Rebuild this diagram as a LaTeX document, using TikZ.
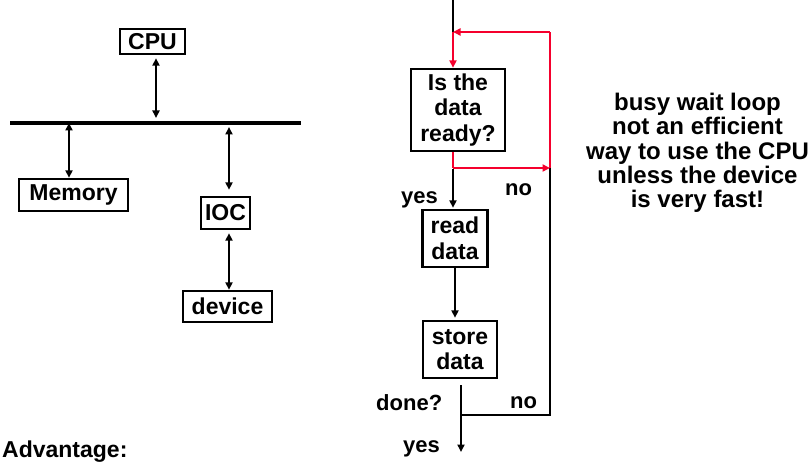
\documentclass[tikz,border=0pt]{standalone}
\usepackage{fontspec}
\setmainfont{Liberation Sans}
\usetikzlibrary{arrows.meta}
\definecolor{loopred}{RGB}{245,0,45}
\begin{document}
\begin{tikzpicture}[x=1pt,y=-1pt,
  box/.style={draw,line width=2.4pt,inner sep=0pt,align=center,font=\fontsize{23}{25.5}\selectfont\bfseries},
  lbl/.style={inner sep=0pt,anchor=base west,font=\fontsize{22}{24}\selectfont\bfseries},
  con/.style={line width=2.2pt,-{Triangle[length=7.5pt,width=7pt]}},
  dcon/.style={line width=2.2pt,{Triangle[length=7.5pt,width=7pt]}-{Triangle[length=7.5pt,width=7pt]}},
  rcon/.style={con,draw=loopred},
  rline/.style={line width=2.2pt,draw=loopred},
  bline/.style={line width=2.2pt},
  ]
\useasboundingbox (0,0) rectangle (809,462);

% left: bus system
\node[box,minimum width=65pt,minimum height=25pt] (cpu) at (152.5,41.5) {CPU};
\node[box,minimum width=109pt,minimum height=32pt] (mem) at (73.5,195) {Memory};
\node[box,minimum width=49pt,minimum height=32pt] (ioc) at (225.5,213) {IOC};
\node[box,minimum width=89pt,minimum height=31pt] (dev) at (227.5,306.5) {device};

\coordinate (busL) at (10,123);
\coordinate (busR) at (301,123);
\draw[line width=3.5pt] (busL) -- (busR);

\coordinate (tc) at (156,123);
\coordinate (tm) at (69,123);
\coordinate (ti) at (229,123);
\draw[dcon,shorten <=5pt,shorten >=3pt] (tc) -- (tc |- cpu.south);
\draw[dcon] (tm) -- (tm |- mem.north);
\draw[dcon,shorten <=4pt,shorten >=6pt] (ti) -- (ti |- ioc.north);
\draw[dcon,shorten <=3pt] (ti |- ioc.south) -- (ti |- dev.north);

% right: flowchart
\node[box,minimum width=94pt,minimum height=82pt] (q) at (458,110) {Is the\\data\\ready?};
\node[box,minimum width=65pt,minimum height=57pt] (rd) at (455,238.5) {read\\data};
\node[box,minimum width=74pt,minimum height=57pt] (st) at (460,349.5) {store\\data};

\coordinate (top) at (453,0);
\coordinate (j1) at (453,32);
\coordinate (rt) at (550,32);
\coordinate (j2) at (453,168);
\coordinate (rm) at (550,168);
\coordinate (rb) at (550,415);
\coordinate (j3) at (461,415);
\coordinate (out) at (461,452);

\draw[bline] (top) -- (j1);
\draw[bline] (rm) -- (rb) -- (j3);
\draw[con,shorten <=1pt,shorten >=1pt] (j2) -- (j2 |- rd.north);
\draw[con,shorten >=2pt] (rd.south) -- (rd.south |- st.north);
\draw[con,shorten <=6pt] (j3 |- st.south) -- (out);

\draw[rcon] (rt) -- (j1);
\draw[rcon] (j1) -- (j1 |- q.north);
\draw[rline] (j1 |- q.south) -- (j2);
\draw[rcon] (j2) -- (rm);
\draw[rline] (rm) -- (rt);

\node[lbl] (yes1) at (401,204) {yes};
\node[lbl] (no1) at (505,196) {no};
\node[lbl] (done) at (376,410) {done?};
\node[lbl] (no2) at (510,409) {no};
\node[lbl] (yes2) at (403,452) {yes};
\node[lbl,font=\fontsize{23}{25}\selectfont\bfseries] (adv) at (2,457) {Advantage:};

\node[inner sep=0pt,anchor=north,align=center,font=\fontsize{24}{24.3}\selectfont\bfseries] (note) at (697.5,93)
  {busy wait loop\\not an efficient\\way to use the CPU\\unless the device\\is very fast!};
\end{tikzpicture}
\end{document}
